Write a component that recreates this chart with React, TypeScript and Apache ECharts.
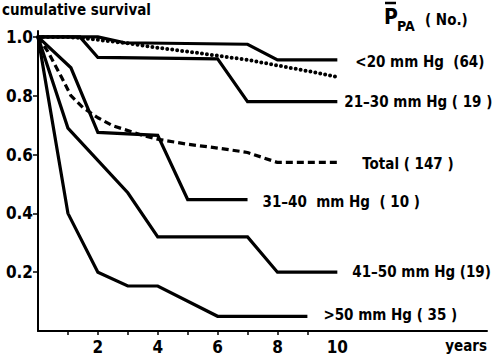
import React, { useEffect, useRef } from "react";
import * as echarts from "echarts";

// survival curves: [years, cumulative survival]
const lt20: number[][] = [[0, 1.0], [2, 1.0], [2.9, 0.98], [7, 0.975], [8, 0.922], [10, 0.922]];
const reference: number[][] = [[0, 1.0], [1, 1.0], [2, 0.99], [3, 0.978], [4, 0.963], [5, 0.95], [6, 0.936], [7, 0.922], [8, 0.903], [9, 0.884], [10, 0.864]];
const r21to30: number[][] = [[0, 1.0], [1.4, 1.0], [2, 0.93], [6, 0.925], [7, 0.78], [10, 0.78]];
const total: number[][] = [[0, 1.0], [0.33, 0.95], [0.8, 0.86], [1.1, 0.8], [1.5, 0.76], [2, 0.725], [2.5, 0.698], [3.4, 0.668], [4, 0.652], [5, 0.635], [6, 0.622], [7, 0.607], [8, 0.573], [10, 0.573]];
const r31to40: number[][] = [[0, 1.0], [1.1, 0.895], [2, 0.675], [4, 0.665], [5, 0.447], [7, 0.447]];
const r41to50: number[][] = [[0, 1.0], [1, 0.69], [3, 0.47], [4, 0.32], [7, 0.32], [8, 0.2], [10, 0.2]];
const gt50: number[][] = [[0, 1.0], [1, 0.4], [2, 0.2], [3, 0.153], [4, 0.153], [6, 0.05], [9, 0.05]];

const seriesLabels = ["<20 mm Hg  (64)", "21–30 mm Hg ( 19 )", "Total ( 147 )", "31–40  mm Hg  ( 10 )", "41–50 mm Hg (19)", ">50 mm Hg ( 35 )"];
const xLabelValues = [2, 4, 6, 8, 10];
const xTickValues = [1, 2, 3, 4, 5, 6, 7, 8, 9];
const yTickValues = [0.2, 0.4, 0.6, 0.8, 1.0];

const FONT = "'DejaVu Sans Condensed', 'DejaVu Sans', sans-serif";

export default function App() {
  const ref = useRef<HTMLDivElement>(null);
  useEffect(() => {
    const chart = echarts.init(ref.current!, null, { renderer: "svg" });
    const solid = { color: "#000", width: 3.2, type: "solid" as const, cap: "butt" as const, join: "miter" as const };
    const lbl = (text: string, distance: number, dy = 0) => ({
      show: true,
      formatter: text,
      distance,
      offset: [0, dy],
      color: "#000",
      fontFamily: FONT,
      fontWeight: "bold",
      fontSize: 15,
    });
    const mk = (data: number[][], lineStyle: any, endLabel?: any, z = 2) => ({
      type: "line",
      data,
      showSymbol: false,
      symbol: "none",
      lineStyle,
      endLabel,
      z,
      silent: true,
    });
    chart.setOption({
      animation: false,
      backgroundColor: "#fff",
      grid: { left: 38, right: 8, top: 31, bottom: 27 },
      xAxis: {
        type: "value",
        min: 0,
        max: 15,
        interval: 1,
        axisLine: { show: true, lineStyle: { color: "#000", width: 2 } },
        axisTick: { show: true, customValues: xTickValues, length: 4, inside: false, lineStyle: { color: "#000", width: 1.5 } },
        axisLabel: { customValues: xLabelValues, color: "#000", fontFamily: FONT, fontWeight: "bold", fontSize: 17, margin: 7 },
        splitLine: { show: false },
      },
      yAxis: {
        type: "value",
        min: 0,
        max: 1.02,
        axisLine: { show: true, lineStyle: { color: "#000", width: 2 } },
        axisTick: { show: true, customValues: yTickValues, length: 5, lineStyle: { color: "#000", width: 1.5 } },
        axisLabel: {
          customValues: yTickValues,
          formatter: (v: number) => v.toFixed(1),
          color: "#000",
          fontFamily: FONT,
          fontWeight: "bold",
          fontSize: 17,
          margin: 5,
        },
        splitLine: { show: false },
      },
      series: [
        mk(lt20, solid, lbl(seriesLabels[0], 18, 2)),
        mk(reference, { color: "#000", width: 4, type: [0, 5], cap: "round" }),
        mk(r21to30, solid, lbl(seriesLabels[1], 7)),
        mk(total, { color: "#000", width: 3.2, type: [7, 4], cap: "butt" }, lbl(seriesLabels[2], 25, 2)),
        mk(r31to40, solid, lbl(seriesLabels[3], 15, 2)),
        mk(r41to50, solid, lbl(seriesLabels[4], 15)),
        mk(gt50, solid, lbl(seriesLabels[5], 16, -1)),
      ],
      graphic: [
        { type: "text", left: 2, top: 2, style: { text: "cumulative survival", fill: "#000", font: `bold 15px ${FONT}` } },
        { type: "text", x: 384, y: 6, style: { text: "P", fill: "#000", font: `bold 21px ${FONT}` } },
        { type: "line", shape: { x1: 385, y1: 3, x2: 396, y2: 3 }, style: { stroke: "#000", lineWidth: 2.5 } },
        { type: "text", x: 397, y: 19, style: { text: "PA", fill: "#000", font: `bold 14px ${FONT}` } },
        { type: "text", x: 425, y: 12, style: { text: "( No.)", fill: "#000", font: `bold 15px ${FONT}` } },
        { type: "text", right: 8, top: 338, style: { text: "years", fill: "#000", font: `bold 15px ${FONT}` } },
      ],
    });
    return () => chart.dispose();
  }, []);
  return <div ref={ref} style={{ width: 495, height: 358, position: "absolute", left: 0, top: 0 }} />;
}
